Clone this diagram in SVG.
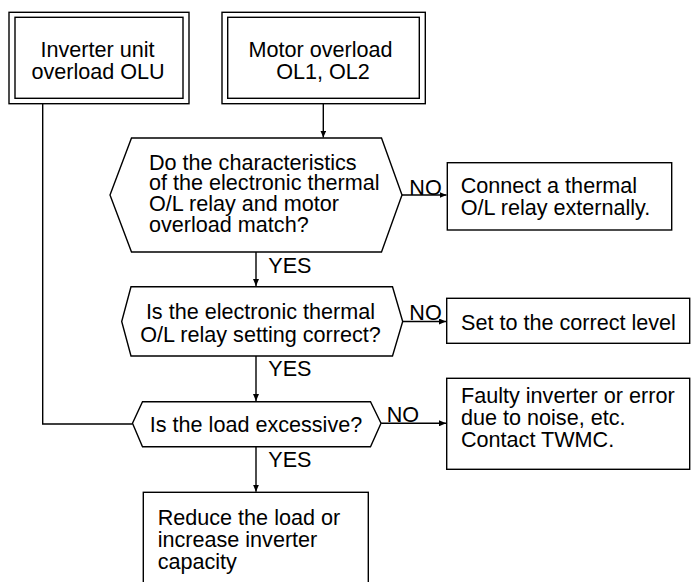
<svg xmlns="http://www.w3.org/2000/svg" width="691" height="582" viewBox="0 0 691 582">
<defs>
<style>
.s{fill:#fff;stroke:#000;stroke-width:1.4}
.l{fill:none;stroke:#000;stroke-width:1.4}
text{font-family:"Liberation Sans",Arial,sans-serif;font-size:21.6px;fill:#000}
.m{text-anchor:middle}
</style>
<marker id="ah" markerUnits="userSpaceOnUse" markerWidth="8" markerHeight="6" refX="7" refY="3" orient="auto">
<path d="M0,0 L7,3 L0,6 z" fill="#000"/>
</marker>
</defs>
<rect width="691" height="582" fill="#fff"/>
<g id="connectors">
<path class="l" d="M42.7,104 V424 H132.5"/>
<path class="l" d="M323.3,104 V137.5" marker-end="url(#ah)"/>
<path class="l" d="M256,252 V286" marker-end="url(#ah)"/>
<path class="l" d="M256,356 V401" marker-end="url(#ah)"/>
<path class="l" d="M256,446.7 V491.7" marker-end="url(#ah)"/>
<path class="l" d="M402,195 H446.5" marker-end="url(#ah)"/>
<path class="l" d="M402.7,321.5 H446" marker-end="url(#ah)"/>
<path class="l" d="M381,423.3 H446" marker-end="url(#ah)"/>
<text x="268.3" y="272.7">YES</text>
<text x="268.3" y="375.7">YES</text>
<text x="268.3" y="467.3">YES</text>
<text x="409.3" y="194.5">NO</text>
<text x="409.3" y="320">NO</text>
<text x="386.7" y="421.5">NO</text>
</g>
<g id="n1">
<rect class="s" x="9" y="12.3" width="180" height="91.4"/>
<rect class="s" x="15" y="17.3" width="168" height="81"/>
<text class="m" x="97.5" y="57.3">Inverter unit</text>
<text class="m" x="98" y="79">overload OLU</text>
</g>
<g id="n2">
<rect class="s" x="222" y="12.3" width="203.3" height="91.4"/>
<rect class="s" x="227.7" y="17.3" width="191.6" height="81"/>
<text class="m" x="320.5" y="56.5">Motor overload</text>
<text class="m" x="323" y="78.5">OL1, OL2</text>
</g>
<g id="d1">
<polygon class="s" points="131.5,138 381.5,138 402,195 381.5,252 131.5,252 110,195"/>
<text x="149" y="169.5">Do the characteristics</text>
<text x="149" y="190.3">of the electronic thermal</text>
<text x="149" y="211">O/L relay and motor</text>
<text x="149" y="231.8">overload match?</text>
</g>
<g id="b1">
<rect class="s" x="447.3" y="162.7" width="224.4" height="67.3"/>
<text x="460.7" y="192.7">Connect a thermal</text>
<text x="460.7" y="215">O/L relay externally.</text>
</g>
<g id="d2">
<polygon class="s" points="131,286.7 392.5,286.7 402.7,321.5 392.5,356 131,356 121.7,321.5"/>
<text class="m" x="260.5" y="319">Is the electronic thermal</text>
<text class="m" x="260.5" y="341.5">O/L relay setting correct?</text>
</g>
<g id="b2">
<rect class="s" x="446.7" y="298.3" width="243" height="45"/>
<text x="461" y="330">Set to the correct level</text>
</g>
<g id="d3">
<polygon class="s" points="142.5,401.7 370.5,401.7 381,423.3 370.5,446.7 142.5,446.7 132.5,423.3"/>
<text class="m" x="256" y="432">Is the load excessive?</text>
</g>
<g id="b3">
<rect class="s" x="446.7" y="378.3" width="243" height="91"/>
<text x="461" y="403.3">Faulty inverter or error</text>
<text x="461" y="425">due to noise, etc.</text>
<text x="461" y="447.3">Contact TWMC.</text>
</g>
<g id="b4">
<rect class="s" x="143.3" y="492.3" width="225" height="100"/>
<text x="157.7" y="525">Reduce the load or</text>
<text x="157.7" y="547.3">increase inverter</text>
<text x="157.7" y="569.3">capacity</text>
</g>
</svg>
